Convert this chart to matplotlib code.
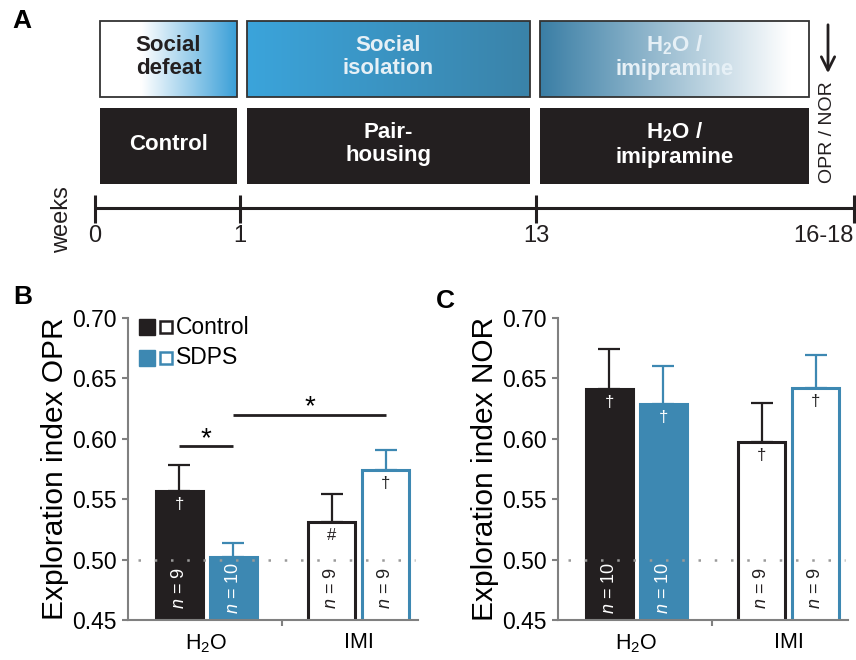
import matplotlib
matplotlib.use('Agg')
import matplotlib.pyplot as plt
import numpy as np
from matplotlib.patches import Rectangle
from matplotlib.colors import LinearSegmentedColormap

plt.rcParams['font.family'] = ['Liberation Sans', 'DejaVu Sans']
plt.rcParams['mathtext.fontset'] = 'custom'
plt.rcParams['mathtext.rm'] = 'Liberation Sans'
plt.rcParams['mathtext.it'] = 'Liberation Sans:italic'
plt.rcParams['mathtext.bf'] = 'Liberation Sans:bold'
plt.rcParams['mathtext.default'] = 'regular'

# data
groups = ['H$_2$O', 'IMI']
opr_mean = [0.557, 0.502, 0.531, 0.574]
opr_sem = [0.021, 0.012, 0.023, 0.017]
opr_n = [9, 10, 9, 9]
opr_marks = ['\u2020', '', '#', '\u2020']
nor_mean = [0.641, 0.629, 0.597, 0.642]
nor_sem = [0.033, 0.031, 0.033, 0.027]
nor_n = [10, 10, 9, 9]
nor_marks = ['\u2020', '\u2020', '\u2020', '\u2020']
week_labels = ['0', '1', '13', '16-18']
top_row = ['Social\ndefeat', 'Social\nisolation', 'H$_{\\mathbf{2}}$O /\nimipramine']
bottom_row = ['Control', 'Pair-\nhousing', 'H$_{\\mathbf{2}}$O /\nimipramine']

BLACK = '#231f20'
BLUE = '#3d88b2'
GREY = '#808080'

fig = plt.figure(figsize=(8.56, 6.6), dpi=100)

# ---------- panel A (drawn in pixel coords) ----------
axA = fig.add_axes([0, 0, 1, 1], zorder=0)
axA.axis('off')

box_x = [(100, 237), (247, 530), (540, 809)]
grads = [
    LinearSegmentedColormap.from_list('g1', [(0, '#ffffff'), (0.3, '#ffffff'), (1, '#3a9fd8')]),
    LinearSegmentedColormap.from_list('g2', ['#3aa4db', '#3b83a9']),
    LinearSegmentedColormap.from_list('g3', [(0, '#3a7ea5'), (0.93, '#ffffff'), (1, '#ffffff')]),
]
txt_cols = [BLACK, '#e6f0f6', '#e6f0f6']
grad = np.linspace(0, 1, 256).reshape(1, -1)
for (x0, x1), cm, tc, lab in zip(box_x, grads, txt_cols, top_row):
    axA.imshow(grad, cmap=cm, extent=(x0, x1, 97, 21), aspect='auto', zorder=1)
    axA.add_patch(Rectangle((x0, 21), x1 - x0, 76, fill=False, ec='#333333', lw=1.3, zorder=2))
    axA.text((x0 + x1) / 2, 57, lab, ha='center', va='center', color=tc,
             fontsize=16, fontweight='bold', linespacing=1.15, zorder=3)
for (x0, x1), lab in zip(box_x, bottom_row):
    axA.add_patch(Rectangle((x0, 108), x1 - x0, 76, fc=BLACK, ec='none', zorder=2))
    axA.text((x0 + x1) / 2, 144, lab, ha='center', va='center', color='white',
             fontsize=16, fontweight='bold', linespacing=1.15, zorder=3)

# timeline
week_x = [95, 240, 536, 854]
axA.plot([week_x[0], week_x[-1]], [208, 208], color=BLACK, lw=2.2, solid_capstyle='butt')
for wx, wl in zip(week_x, week_labels):
    axA.plot([wx, wx], [195, 223], color=BLACK, lw=2.2, solid_capstyle='butt')
    ha = 'right' if wl == '16-18' else 'center'
    axA.text(wx, 236, wl, ha=ha, va='center', fontsize=17, color=BLACK)
axA.text(62, 220, 'weeks', rotation=90, ha='center', va='center', fontsize=17, color=BLACK)
axA.text(828, 132, 'OPR / NOR', rotation=90, ha='center', va='center', fontsize=14, color=BLACK)
axA.annotate('', xy=(828, 76), xytext=(828, 22),
             arrowprops=dict(arrowstyle='->', color=BLACK, lw=2, mutation_scale=24))
axA.set_xlim(0, 856)
axA.set_ylim(660, 0)

fig.text(22 / 856, 1 - 21 / 660, 'A', fontsize=19, fontweight='bold', ha='center', va='center')
fig.text(23 / 856, 1 - 297 / 660, 'B', fontsize=19, fontweight='bold', ha='center', va='center')
fig.text(445 / 856, 1 - 301 / 660, 'C', fontsize=19, fontweight='bold', ha='center', va='center')

# ---------- panels B and C ----------
pos = np.array([0.95, 1.95, 3.77, 4.77])
gcent = [1.45, 4.27]
width = 0.87
faces = [BLACK, BLUE, 'white', 'white']
edges = [BLACK, BLUE, BLACK, BLUE]
txtc = ['white', 'white', BLACK, '#222222']


def draw_panel(ax, means, sems, ns, marks, ylabel):
    ax.bar(pos, means, width=width, bottom=0, color=faces, edgecolor=edges,
           linewidth=2.2, zorder=2)
    for p, m, s, e in zip(pos, means, sems, edges):
        ax.errorbar(p, m, yerr=[[0], [s]], color=e, lw=1.6, capsize=8,
                    capthick=1.6, zorder=1)
    ax.axhline(0.5, xmin=0.035, xmax=0.99, color='#9a9a9a', lw=1.8,
               ls=(0, (1, 5.5)), zorder=3)
    for p, m, n, mk, tc in zip(pos, means, ns, marks, txtc):
        ax.text(p, 0.4765, '$\\it{n}$ = %d' % n, rotation=90, ha='center', va='center',
                color=tc, fontsize=13, zorder=4)
        if mk:
            ax.text(p, m - 0.011, mk, ha='center', va='center', color=tc,
                    fontsize=12, zorder=4)
    ax.set_ylim(0.45, 0.70)
    ax.set_xlim(0, 290 / 54)
    ax.set_yticks(np.arange(0.45, 0.701, 0.05))
    ax.set_yticklabels(['%.2f' % v for v in np.arange(0.45, 0.701, 0.05)])
    ax.set_xticks(gcent, groups)
    ax.set_xticks([2.86], minor=True)
    ax.tick_params(axis='x', which='major', length=0, pad=9, labelsize=15.5)
    ax.tick_params(axis='x', which='minor', length=4, width=1.5, color=GREY)
    ax.tick_params(axis='y', length=4, width=1.5, color=GREY, labelsize=16.5, pad=4)
    for sp in ['top', 'right']:
        ax.spines[sp].set_visible(False)
    for sp in ['left', 'bottom']:
        ax.spines[sp].set_color(GREY)
        ax.spines[sp].set_linewidth(1.5)
    ax.set_ylabel(ylabel, fontsize=21.5, labelpad=2)
    ax.patch.set_alpha(0)


axB = fig.add_axes([128 / 856, 1 - 620 / 660, 290 / 856, 302 / 660], zorder=1)
draw_panel(axB, opr_mean, opr_sem, opr_n, opr_marks, 'Exploration index OPR')

# significance bars
axB.plot([pos[0], pos[1]], [0.594, 0.594], color=BLACK, lw=2, solid_capstyle='butt')
axB.text((pos[0] + pos[1]) / 2, 0.600, '*', ha='center', va='center', fontsize=20)
axB.plot([pos[1], pos[3]], [0.620, 0.620], color=BLACK, lw=2, solid_capstyle='butt')
axB.text((pos[1] + pos[3]) / 2, 0.626, '*', ha='center', va='center', fontsize=20)

# legend
for yy, fc, ec, lab in [(0.970, BLACK, BLACK, 'Control'), (0.868, BLUE, BLUE, 'SDPS')]:
    axB.plot([0.064], [yy], marker='s', ms=11, mfc=fc, mec=fc, transform=axB.transAxes, clip_on=False)
    axB.plot([0.131], [yy], marker='s', ms=9, mfc='white', mec=ec, mew=1.8,
             transform=axB.transAxes, clip_on=False)
    axB.text(0.165, yy, lab, transform=axB.transAxes, ha='left', va='center', fontsize=16.5)

axC = fig.add_axes([558 / 856, 1 - 620 / 660, 290 / 856, 302 / 660], zorder=1)
draw_panel(axC, nor_mean, nor_sem, nor_n, nor_marks, 'Exploration index NOR')

fig.savefig('out.png', dpi=100)
